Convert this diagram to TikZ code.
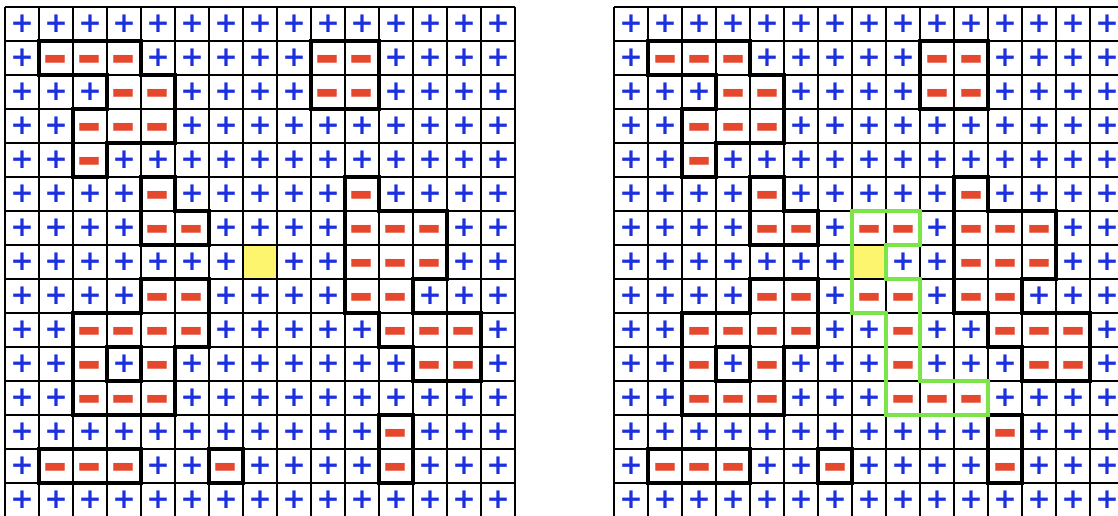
\documentclass[tikz,border=0pt]{standalone}
\usepackage{fontspec}
\newfontfamily\signfont{DejaVu Sans}
\definecolor{plusblue}{RGB}{28,48,222}
\definecolor{minusred}{RGB}{230,72,46}
\definecolor{clgreen}{RGB}{122,228,72}
\definecolor{seedyellow}{RGB}{253,245,110}
\tikzset{
  gridline/.style={line width=1.8pt, black},
  wall/.style={line width=4.5pt, black, line cap=rect},
  clusterwall/.style={line width=4.5pt, draw=clgreen, line join=miter},
  plussign/.style={text=plusblue, inner sep=0pt, font=\signfont\bfseries\fontsize{28}{28}\selectfont},
  minussign/.style={text=minusred, inner sep=0pt, yshift=-10pt, font=\signfont\bfseries\fontsize{27}{27}\selectfont},
  seedcell/.style={fill=seedyellow, draw=none}
}
% minus sites
\def\rowsL{1/{1,2,3,9,10},2/{3,4,9,10},3/{2,3,4},4/{2},5/{4,10},6/{4,5,10,11,12},7/{10,11,12},8/{4,5,10,11},9/{2,3,4,5,11,12,13},10/{2,4,12,13},11/{2,3,4},12/{11},13/{1,2,3,6,11}}
\def\rowsR{1/{1,2,3,9,10},2/{3,4,9,10},3/{2,3,4},4/{2},5/{4,10},6/{4,5,7,8,10,11,12},7/{7,10,11,12},8/{4,5,7,8,10,11},9/{2,3,4,5,8,11,12,13},10/{2,4,8,12,13},11/{2,3,4,8,9,10},12/{11},13/{1,2,3,6,11}}
\foreach \r/\cols in \rowsL {\foreach \c in \cols {\expandafter\gdef\csname mL-\r-\c\endcsname{}}}
\foreach \r/\cols in \rowsR {\foreach \c in \cols {\expandafter\gdef\csname mR-\r-\c\endcsname{}}}
\expandafter\gdef\csname yL-7-7\endcsname{}
\expandafter\gdef\csname yR-7-7\endcsname{}
\def\st#1#2#3{\ifcsname m#1-#2-#3\endcsname1\else0\fi}
\begin{document}
\begin{tikzpicture}[x=1pt,y=-1pt]
\useasboundingbox (0,0) rectangle (1118,516);
\clip (0,0) rectangle (1118,516);
\fill[white] (0,0) rectangle (1118,516);
\foreach \g/\ox in {L/5,R/614}{
  % seed cell
  \fill[seedcell] ({\ox+7*34},{7+7*34}) rectangle ++(34,34);
  % grid lines
  \foreach \k in {0,...,15}{
    \draw[gridline] ({\ox+\k*34},7) -- ({\ox+\k*34},517);
    \draw[gridline] (\ox,{7+\k*34}) -- ({\ox+510},{7+\k*34});
  }
  % signs
  \foreach \r in {0,...,14}{
    \foreach \c in {0,...,14}{
      \ifcsname y\g-\r-\c\endcsname\else
        \ifcsname m\g-\r-\c\endcsname
          \node[minussign] (\g-\r-\c) at ({\ox+\c*34+17},{7+\r*34+17}) {\scalebox{1.15}[2.5]{−}};
        \else
          \node[plussign] (\g-\r-\c) at ({\ox+\c*34+17},{7+\r*34+17}) {+};
        \fi
      \fi
    }
  }
  % domain walls: vertical edges
  \foreach \r in {0,...,14}{
    \foreach \c [evaluate=\c as \cc using int(\c+1)] in {0,...,13}{
      \ifnum\st{\g}{\r}{\c}=\st{\g}{\r}{\cc}\relax\else
        \draw[wall] ({\ox+\cc*34},{7+\r*34}) -- ++(0,34);
      \fi
    }
  }
  % domain walls: horizontal edges
  \foreach \r [evaluate=\r as \rr using int(\r+1)] in {0,...,13}{
    \foreach \c in {0,...,14}{
      \ifnum\st{\g}{\r}{\c}=\st{\g}{\rr}{\c}\relax\else
        \draw[wall] ({\ox+\c*34},{7+\rr*34}) -- ++(34,0);
      \fi
    }
  }
}
% flipped cluster outline
\draw[clusterwall] (852,211) -- (920,211) -- (920,245) -- (886,245) -- (886,279) -- (920,279) -- (920,381) -- (988,381) -- (988,415) -- (886,415) -- (886,313) -- (852,313) -- cycle;
\end{tikzpicture}
\end{document}
